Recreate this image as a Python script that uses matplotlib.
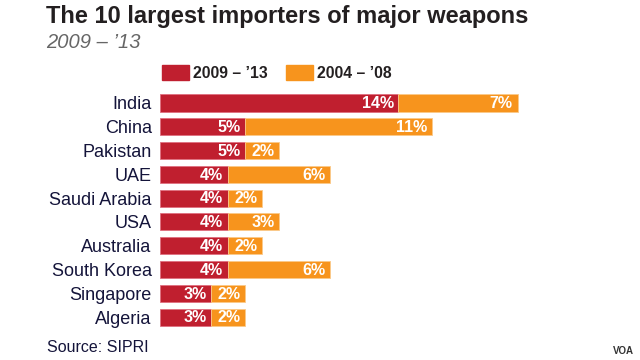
import matplotlib.pyplot as plt

countries = ['India', 'China', 'Pakistan', 'UAE', 'Saudi Arabia', 'USA',
             'Australia', 'South Korea', 'Singapore', 'Algeria']
share_0913 = [14, 5, 5, 4, 4, 4, 4, 4, 3, 3]
share_0408 = [7, 11, 2, 6, 2, 3, 2, 6, 2, 2]

red = '#C01F2F'
orange = '#F7941D'
navy = '#14143A'

plt.rcParams['font.family'] = ['Liberation Sans', 'DejaVu Sans']

fig = plt.figure(figsize=(6.4, 3.6), dpi=100)
ax = fig.add_axes([0.25, 0.0861, 0.72, 0.661])

y = list(range(len(countries)))
ax.barh(y, share_0913, height=0.72, color=red, edgecolor='#E07080', linewidth=0.6)
ax.barh(y, share_0408, left=share_0913, height=0.72, color=orange,
        edgecolor='#FBC98A', linewidth=0.6)

for i in y:
    a = share_0913[i]
    b = share_0408[i]
    ax.text(a - 0.28, i + 0.03, f'{a}%', color='white', fontsize=11.5,
            fontweight='bold', ha='right', va='center')
    ax.text(a + b - 0.28, i + 0.03, f'{b}%', color='white', fontsize=11.5,
            fontweight='bold', ha='right', va='center')

ax.set_xlim(0, 460 / 17)
ax.set_ylim(9.5, -0.5)
ax.set_yticks(y)
ax.set_yticklabels(countries, fontsize=13, color=navy)
ax.tick_params(axis='y', length=0, pad=6)
ax.set_xticks([])
for s in ax.spines.values():
    s.set_visible(False)

fig.text(46 / 640, 1 - 16 / 360, 'The 10 largest importers of major weapons',
         fontsize=17, fontweight='bold', color='#231F20', va='center')
fig.text(46 / 640, 1 - 43 / 360, '2009 \u2013 \u201913', fontsize=14.5,
         style='italic', color='#666666', va='center')

# legend
fig.patches.append(plt.Rectangle((162 / 640, 1 - 80 / 360), 27 / 640, 15 / 360,
                                 transform=fig.transFigure, color=red))
fig.text(193 / 640, 1 - 73 / 360, '2009 \u2013 \u201913', fontsize=11.3,
         fontweight='bold', color='#231F20', va='center')
fig.patches.append(plt.Rectangle((286 / 640, 1 - 80 / 360), 27 / 640, 15 / 360,
                                 transform=fig.transFigure, color=orange))
fig.text(317 / 640, 1 - 73 / 360, '2004 \u2013 \u201908', fontsize=11.3,
         fontweight='bold', color='#231F20', va='center')

fig.text(47 / 640, 1 - 347 / 360, 'Source: SIPRI', fontsize=11.5, color=navy,
         va='center')
fig.text(634 / 640, 1 - 351 / 360, 'VOA', fontsize=7, fontweight='bold',
         color='#333333', ha='right', va='center')

fig.savefig('out.png', dpi=100, facecolor='white')
